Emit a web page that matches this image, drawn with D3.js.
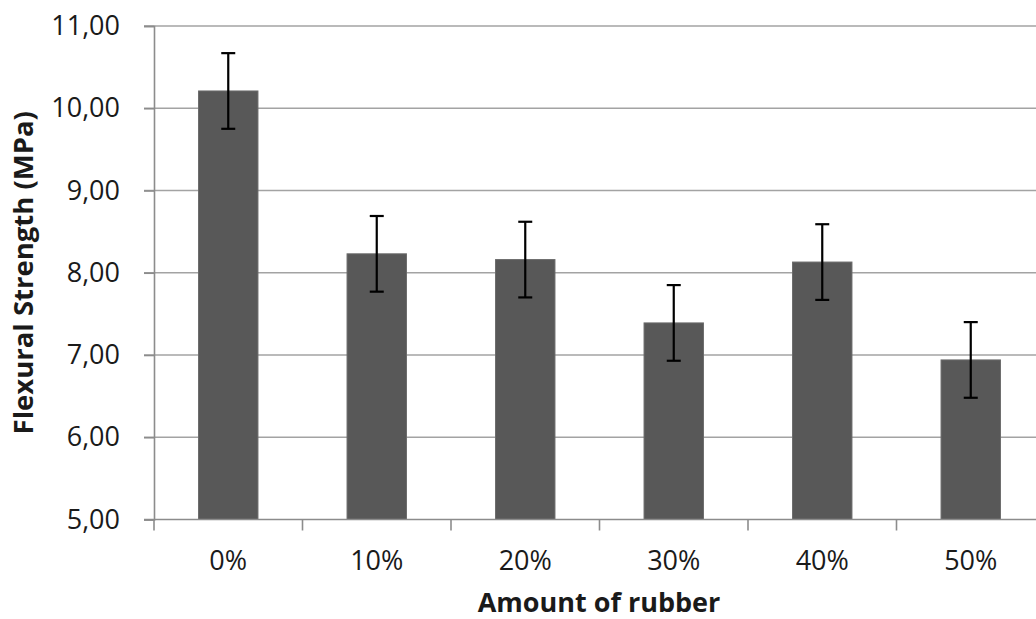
<!DOCTYPE html>
<html>
<head>
<meta charset="utf-8">
<script src="https://cdn.jsdelivr.net/npm/d3@7"></script>
<style>
  html, body { margin: 0; padding: 0; background: #fff; }
  svg { display: block; }
  text { font-family: "Open Sans", Lato, sans-serif; fill: #1a1a1a; }
</style>
</head>
<body>
<svg id="chart" width="1036" height="619"></svg>
<script>
// Flexural strength by rubber content, with standard deviation
const categories = ["0%", "10%", "20%", "30%", "40%", "50%"];
const strength = [10.21, 8.23, 8.16, 7.39, 8.13, 6.94];
const deviation = [0.46, 0.46, 0.46, 0.46, 0.46, 0.46];
const yTicks = [5, 6, 7, 8, 9, 10, 11];

const svg = d3.select("#chart");
const plotLeft = 154, plotRight = 1045, plotTop = 26, plotBottom = 519.5;

const x = d3.scaleBand().domain(categories).range([plotLeft, plotRight]).paddingInner(0.6).paddingOuter(0.3);
const xEdges = d3.scaleBand().domain(categories).range([plotLeft, plotRight]).padding(0);
const y = d3.scaleLinear().domain([5, 11]).range([plotBottom, plotTop]);

const fmt = v => d3.format(".2f")(v).replace(".", ",");

// horizontal gridlines
svg.append("g").selectAll("line").data(yTicks.filter(t => t > 5)).join("line")
  .attr("x1", plotLeft - 10).attr("x2", plotRight)
  .attr("y1", d => y(d)).attr("y2", d => y(d))
  .attr("stroke", "#a3a3a3").attr("stroke-width", 1.6);

// y axis
const yAxis = svg.append("g").attr("transform", `translate(${plotLeft},0)`)
  .call(d3.axisLeft(y).tickValues(yTicks).tickFormat(fmt).tickSize(10).tickPadding(24));
yAxis.select(".domain").attr("stroke", "#8c8c8c").attr("stroke-width", 1.6);
yAxis.selectAll(".tick line").attr("stroke", "#8c8c8c").attr("stroke-width", 1.6);
yAxis.selectAll(".tick text").attr("font-size", 27).attr("fill", "#1a1a1a")
  .style("font-family", "'Open Sans', Lato, sans-serif");

// bars
svg.append("g").selectAll("rect").data(categories).join("rect")
  .attr("x", d => x(d)).attr("width", x.bandwidth())
  .attr("y", (d, i) => y(strength[i]))
  .attr("height", (d, i) => y(5) - y(strength[i]))
  .attr("fill", "#585858").attr("stroke", "#6a6a6a").attr("stroke-width", 1);

// x axis
const xAxis = svg.append("g").attr("transform", `translate(0,${plotBottom})`);
xAxis.append("line").attr("x1", plotLeft - 10).attr("x2", plotRight)
  .attr("stroke", "#8c8c8c").attr("stroke-width", 1.6);
xAxis.selectAll("line.tick").data(categories.concat(["end"])).join("line")
  .attr("class", "tick")
  .attr("x1", (d, i) => i < categories.length ? xEdges(d) : plotRight)
  .attr("x2", (d, i) => i < categories.length ? xEdges(d) : plotRight)
  .attr("y1", 0).attr("y2", 11)
  .attr("stroke", "#8c8c8c").attr("stroke-width", 1.6);
xAxis.selectAll("text").data(categories).join("text")
  .attr("x", d => x(d) + x.bandwidth() / 2).attr("y", 50.5)
  .attr("text-anchor", "middle").attr("font-size", 27)
  .text(d => d);

// error bars
const eb = svg.append("g").attr("stroke", "#000").attr("stroke-width", 2.2);
categories.forEach((c, i) => {
  const cx = x(c) + x.bandwidth() / 2;
  const hi = y(strength[i] + deviation[i]), lo = y(strength[i] - deviation[i]);
  eb.append("line").attr("x1", cx).attr("x2", cx).attr("y1", hi).attr("y2", lo);
  eb.append("line").attr("x1", cx - 7).attr("x2", cx + 7).attr("y1", hi).attr("y2", hi);
  eb.append("line").attr("x1", cx - 7).attr("x2", cx + 7).attr("y1", lo).attr("y2", lo);
});

// axis titles
svg.append("text").attr("x", 599).attr("y", 612)
  .attr("text-anchor", "middle").attr("font-size", 27).attr("font-weight", "bold")
  .text("Amount of rubber");
svg.append("text").attr("transform", `translate(33,${(plotTop + plotBottom) / 2}) rotate(-90)`)
  .attr("text-anchor", "middle").attr("font-size", 27.5).attr("font-weight", "bold")
  .text("Flexural Strength (MPa)");
</script>
</body>
</html>
